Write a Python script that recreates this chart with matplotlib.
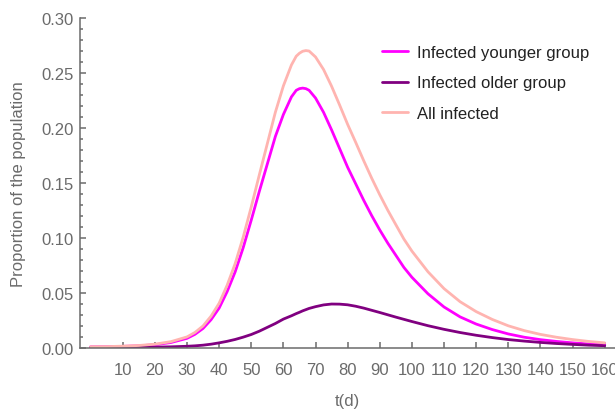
#!/usr/bin/env python3
"""Infected share of the population over time, split by age group."""

import matplotlib
matplotlib.use("Agg")
import matplotlib.pyplot as plt
from matplotlib.ticker import MultipleLocator, FixedLocator, FormatStrFormatter

# time in days
days = [0, 5, 10, 15, 20, 25, 30, 32.5, 35, 37.5, 40, 42.5, 45, 47.5, 50, 52.5,
        55, 57.5, 60, 62.5, 64, 65, 66, 67, 68, 70, 72.5, 75, 77.5, 80, 82.5,
        85, 87.5, 90, 92.5, 95, 97.5, 100, 105, 110, 115, 120, 125, 130, 135,
        140, 145, 150, 155, 160]

infected_young = [0.0008, 0.0009, 0.0012, 0.0017, 0.0027, 0.0047, 0.0085, 0.0122,
                  0.0175, 0.0255, 0.036, 0.051, 0.069, 0.091, 0.116, 0.142,
                  0.167, 0.192, 0.212, 0.228, 0.234, 0.2355, 0.236, 0.2355,
                  0.234, 0.227, 0.214, 0.198, 0.181, 0.164, 0.149, 0.134, 0.120,
                  0.107, 0.095, 0.084, 0.073, 0.064, 0.049, 0.037, 0.028, 0.0215,
                  0.0165, 0.0125, 0.0095, 0.0073, 0.0057, 0.0044, 0.0034, 0.0026]

infected_old = [0.0001, 0.0001, 0.0002, 0.0003, 0.0005, 0.0008, 0.0013, 0.0017,
                0.0023, 0.0032, 0.0044, 0.0058, 0.0075, 0.0096, 0.0120, 0.0150,
                0.0185, 0.0220, 0.0260, 0.0290, 0.0310, 0.0322, 0.0335, 0.0346,
                0.0357, 0.0373, 0.0389, 0.0397, 0.0396, 0.0390, 0.0377, 0.0360,
                0.0340, 0.0320, 0.0299, 0.0278, 0.0258, 0.0238, 0.0200, 0.0167,
                0.0138, 0.0113, 0.0092, 0.0074, 0.0060, 0.0048, 0.0038, 0.0030,
                0.0023, 0.0018]

infected_all = [0.0009, 0.0010, 0.0014, 0.0020, 0.0032, 0.0055, 0.0098, 0.0139,
                0.0198, 0.0287, 0.0404, 0.0568, 0.0765, 0.1006, 0.128, 0.157,
                0.1855, 0.214, 0.238, 0.257, 0.265, 0.2677, 0.2695, 0.2701,
                0.2697, 0.2643, 0.2529, 0.2377, 0.2206, 0.203, 0.1867, 0.170,
                0.154, 0.139, 0.1249, 0.1118, 0.0988, 0.0878, 0.069, 0.0537,
                0.0418, 0.0328, 0.0257, 0.0199, 0.0155, 0.0121, 0.0095, 0.0074,
                0.0057, 0.0044]

x_ticks = list(range(10, 161, 10))

GREY = "#6b6b6b"
plt.rcParams["font.family"] = ["Liberation Sans", "DejaVu Sans"]

fig = plt.figure(figsize=(6.15, 4.10), dpi=100)
ax = fig.add_axes([80.3 / 615, 61.3 / 410, (615 - 80.3) / 615, 330 / 410])

line_kw = dict(lw=2.0, solid_joinstyle="round", solid_capstyle="round")
ax.plot(days, infected_young, color="#ff00ff", label="Infected younger group", **line_kw)
ax.plot(days, infected_old, color="#800080", label="Infected older group", **line_kw)
ax.plot(days, infected_all, color="#ffb4b0", label="All infected", **line_kw)

ax.set_xlim(-3.2, 163.2)
ax.set_ylim(0, 0.30)

for side in ("top", "right"):
    ax.spines[side].set_visible(False)
for side in ("left", "bottom"):
    ax.spines[side].set_color(GREY)
    ax.spines[side].set_linewidth(1.1)

ax.xaxis.set_major_locator(FixedLocator(x_ticks))
ax.yaxis.set_major_locator(MultipleLocator(0.05))
ax.yaxis.set_minor_locator(MultipleLocator(0.01))
ax.yaxis.set_major_formatter(FormatStrFormatter("%.2f"))
ax.tick_params(axis="both", which="both", direction="in", color=GREY,
               labelcolor=GREY, labelsize=12, width=1.1)
ax.tick_params(axis="both", which="major", length=4.5)
ax.tick_params(axis="y", which="minor", length=2.5)
ax.tick_params(axis="x", pad=10)
ax.tick_params(axis="y", pad=5)

ax.set_xlabel("t(d)", fontsize=12, color=GREY, va="center")
ax.xaxis.set_label_coords(0.5, -0.16)
ax.set_ylabel("Proportion of the population", fontsize=12, color=GREY, va="center")
ax.yaxis.set_label_coords(-0.1165, 0.5)

ax.legend(loc="upper left", bbox_to_anchor=(0.551, 0.937), frameon=False,
          fontsize=12, handlelength=1.6, handletextpad=0.5, labelspacing=0.92,
          borderaxespad=0, labelcolor="#222222")

fig.savefig("out.png", dpi=100)
plt.close(fig)
